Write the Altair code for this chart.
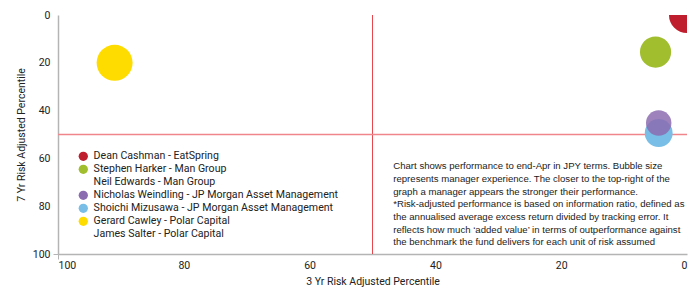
import altair as alt
import pandas as pd

# ---- data ----
managers = [
    "Dean Cashman - EatSpring",
    "Stephen Harker - Man Group",
    "Neil Edwards - Man Group",
    "Nicholas Weindling - JP Morgan Asset Management",
    "Shoichi Mizusawa - JP Morgan Asset Management",
    "Gerard Cawley - Polar Capital",
    "James Salter - Polar Capital",
]
colors = ["#be1e2d", "#a0be2d", "transparent", "#8c6cb0", "#78bee6", "#ffdc00", "transparent"]

bubble_manager = [
    "Gerard Cawley - Polar Capital",
    "Dean Cashman - EatSpring",
    "Stephen Harker - Man Group",
    "Shoichi Mizusawa - JP Morgan Asset Management",
    "Nicholas Weindling - JP Morgan Asset Management",
]
three_yr = [91, 0, 5, 4.5, 4.5]
seven_yr = [20, 0, 15.5, 49.4, 45.2]
experience = [20, 20, 15, 12, 10]

x_ticks = [0, 20, 40, 60, 80, 100]
y_ticks = [0, 20, 40, 60, 80, 100]
median_line = 50

note_lines = [
    "Chart shows performance to end-Apr in JPY  terms. Bubble size",
    "represents manager experience. The closer to the top-right of the",
    "graph a manager appears the stronger their performance.",
    "*Risk-adjusted performance is based on information ratio, defined as",
    "the annualised average excess return divided by tracking error. It",
    "reflects how much \u2018added value\u2019 in terms of outperformance against",
    "the benchmark the fund delivers for each unit of risk assumed",
]
note_x = 46.7
note_y = 61.2

df = pd.DataFrame({"manager": bubble_manager, "x": three_yr, "y": seven_yr, "exp": experience})

FONT = "Roboto"
NOTE_FONT = "Liberation Sans"

xscale = alt.Scale(domain=[100, 0], nice=False, zero=False)
yscale = alt.Scale(domain=[0, 100], reverse=True, nice=False, zero=False)

tick_op = alt.expr("datum.value == 100 ? 1 : 0")

bubbles = alt.Chart(df).mark_circle(clip=True, opacity=1, strokeWidth=0).encode(
    x=alt.X("x:Q", scale=xscale, title="3 Yr Risk Adjusted Percentile",
            axis=alt.Axis(values=x_ticks, grid=False, domainColor="#b4b4b4", domainWidth=1.5,
                          tickColor="#b4b4b4", tickSize=5, tickOpacity=tick_op,
                          labelFont=FONT, labelFontSize=10.5, labelFontWeight="normal", labelColor="#222",
                          labelPadding=1, titleFont=FONT, titleFontSize=10.5,
                          titleFontWeight="normal", titleColor="#222", titlePadding=6)),
    y=alt.Y("y:Q", scale=yscale, title="7 Yr Risk Adjusted Percentile",
            axis=alt.Axis(values=y_ticks, grid=False, domainColor="#b4b4b4", domainWidth=1.5,
                          tickColor="#b4b4b4", tickSize=5, tickOpacity=tick_op,
                          labelFont=FONT, labelFontSize=10.5, labelFontWeight="normal", labelColor="#222",
                          labelPadding=3, titleFont=FONT, titleFontSize=10.5,
                          titleFontWeight="normal", titleColor="#222", titlePadding=6)),
    color=alt.Color("manager:N", scale=alt.Scale(domain=managers, range=colors),
                    legend=alt.Legend(title=None, orient="none", legendX=20, legendY=136,
                                      symbolType="circle", symbolSize=86, symbolOpacity=1,
                                      symbolStrokeWidth=0,
                                      labelFont=FONT, labelFontSize=10.6, labelColor="#222",
                                      labelOffset=5, rowPadding=2, padding=0,
                                      labelLimit=400)),
    size=alt.Size("exp:Q", scale=alt.Scale(domain=[0, 20], range=[0, 1296]), legend=None),
    opacity=alt.condition(alt.datum.manager == "Nicholas Weindling - JP Morgan Asset Management",
                          alt.value(0.85), alt.value(1)),
)

vline = alt.Chart(pd.DataFrame({"v": [median_line]})).mark_rule(color="#e8474e", strokeWidth=1).encode(
    x=alt.X("v:Q", scale=xscale))
hline = alt.Chart(pd.DataFrame({"v": [median_line]})).mark_rule(color="#f0868b", strokeWidth=1.5).encode(
    y=alt.Y("v:Q", scale=yscale))

note = alt.Chart(pd.DataFrame({"x": [note_x], "y": [note_y], "t": ["\n".join(note_lines)]})).mark_text(
    align="left", baseline="top", font=NOTE_FONT, fontSize=9.6, color="#222",
    lineBreak="\n", lineHeight=12.7).encode(
    x=alt.X("x:Q", scale=xscale), y=alt.Y("y:Q", scale=yscale), text="t:N")

chart = alt.layer(vline, hline, bubbles, note).properties(
    width=629, height=239,
    autosize=alt.AutoSizeParams(type="none"),
    padding={"left": 58, "top": 15, "right": 13, "bottom": 35},
).configure_view(stroke=None)

chart.save("out.html", embed_options={"renderer": "svg", "actions": False})
